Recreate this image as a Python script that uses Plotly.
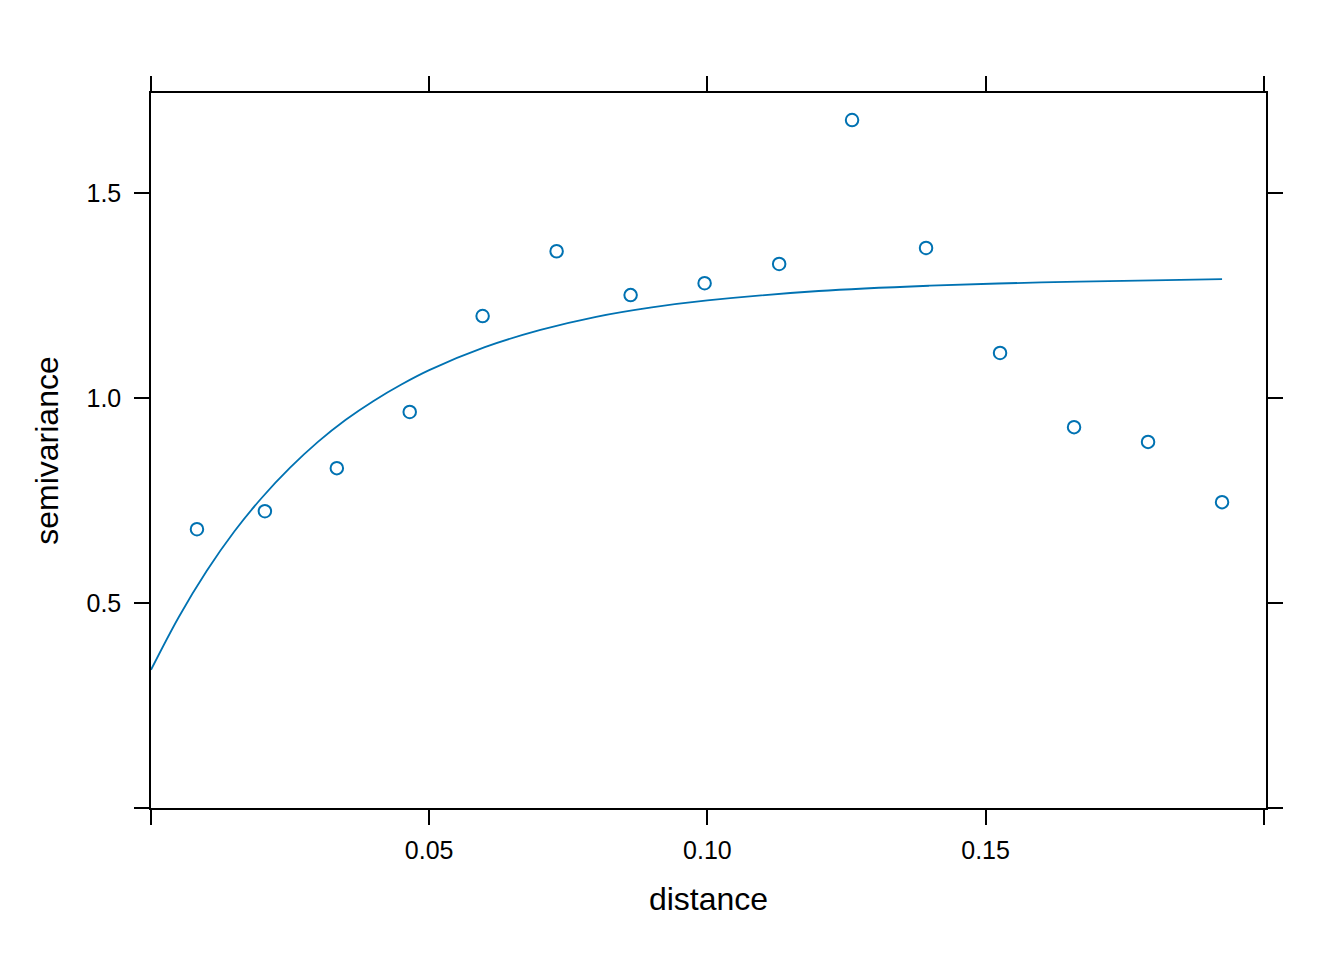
import plotly.graph_objects as go

dist = [0.00826, 0.02047, 0.0334, 0.0465, 0.0596, 0.0729, 0.0862, 0.0995,
        0.1129, 0.1260, 0.1393, 0.1526, 0.1659, 0.1792, 0.1925]
gamma = [0.680, 0.724, 0.829, 0.966, 1.200, 1.358, 1.251, 1.280,
         1.327, 1.678, 1.366, 1.110, 0.929, 0.893, 0.746]

# Fitted model line
model_dist = [0.0, 0.005, 0.01, 0.015, 0.02, 0.025, 0.03, 0.035, 0.04, 0.045, 0.05,
              0.06, 0.07, 0.08, 0.09, 0.10, 0.12, 0.14, 0.16, 0.18, 0.1925]
model_gamma = [0.337, 0.466, 0.578, 0.675, 0.758, 0.830, 0.893, 0.947, 0.993, 1.033, 1.068,
               1.124, 1.166, 1.198, 1.221, 1.238, 1.261, 1.274, 1.282, 1.287, 1.290]

x_ticks = [0.0, 0.05, 0.10, 0.15, 0.20]
x_labels = ["", "0.05", "0.10", "0.15", ""]
y_ticks = [0.0, 0.5, 1.0, 1.5]
y_labels = ["", "0.5", "1.0", "1.5"]

color = "#0072B2"
font_family = "Liberation Sans, Arial, sans-serif"

fig = go.Figure()
fig.add_trace(go.Scatter(
    x=model_dist, y=model_gamma, mode="lines",
    line=dict(color=color, width=1.8, shape="spline", smoothing=1.0),
    showlegend=False, hoverinfo="skip"))
fig.add_trace(go.Scatter(
    x=dist, y=gamma, mode="markers",
    marker=dict(symbol="circle-open", size=12.5, color=color,
                line=dict(color=color, width=2)),
    showlegend=False))

axis_common = dict(
    showline=True, linecolor="black", linewidth=1.5,
    mirror="ticks", ticks="outside", ticklen=15, tickwidth=1.5, tickcolor="black",
    showgrid=False, zeroline=False,
    tickfont=dict(family=font_family, size=25, color="black"),
)

fig.update_xaxes(
    range=[0.0, 0.2004], tickmode="array", tickvals=x_ticks, ticktext=x_labels,
    title=dict(text="distance", font=dict(family=font_family, size=32, color="black"), standoff=25),
    ticklabelstandoff=4,
    **axis_common)
fig.update_yaxes(
    range=[0.0, 1.744], tickmode="array", tickvals=y_ticks, ticktext=y_labels,
    title=dict(text="semivariance", font=dict(family=font_family, size=32, color="black"), standoff=18),
    ticklabelstandoff=8,
    **axis_common)

fig.update_layout(
    width=1344, height=960,
    margin=dict(l=151, r=77.5, t=93, b=152, autoexpand=False),
    plot_bgcolor="white", paper_bgcolor="white",
    font=dict(family=font_family, color="black"),
)

fig.write_html("out.html")
